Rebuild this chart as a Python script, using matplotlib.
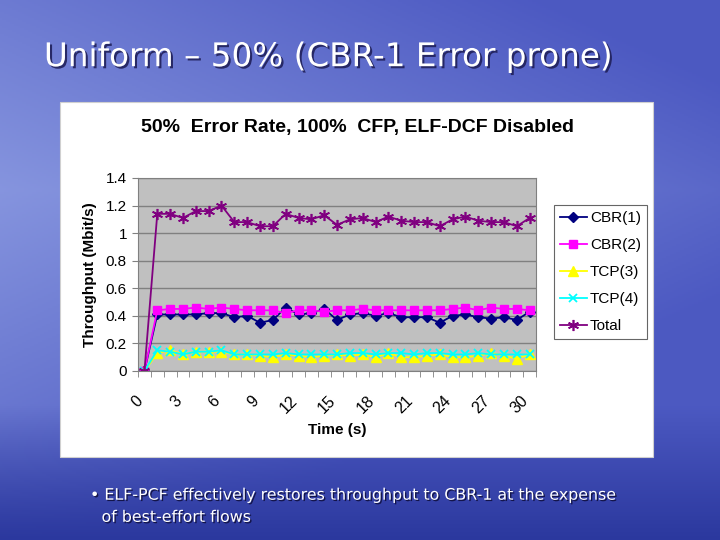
import numpy as np
import matplotlib
matplotlib.use("Agg")
import matplotlib.pyplot as plt
import matplotlib.patheffects as pe
import matplotlib.transforms as mtransforms
from matplotlib.patches import Rectangle

# data (31 samples, t = 0..30 s)
time_s = list(range(31))
cbr1 = [0, 0.41, 0.41, 0.41, 0.41, 0.42, 0.42, 0.39, 0.40, 0.35, 0.37, 0.46, 0.41, 0.42, 0.45, 0.37,
        0.41, 0.42, 0.40, 0.42, 0.39, 0.39, 0.39, 0.35, 0.40, 0.41, 0.39, 0.38, 0.39, 0.37, 0.43]
cbr2 = [0, 0.44, 0.45, 0.45, 0.46, 0.45, 0.46, 0.45, 0.44, 0.44, 0.44, 0.42, 0.44, 0.44, 0.43, 0.44,
        0.44, 0.45, 0.44, 0.44, 0.44, 0.44, 0.44, 0.44, 0.45, 0.46, 0.44, 0.46, 0.45, 0.45, 0.44]
tcp3 = [0, 0.13, 0.15, 0.12, 0.14, 0.14, 0.14, 0.12, 0.12, 0.11, 0.10, 0.12, 0.11, 0.10, 0.11, 0.12,
        0.11, 0.12, 0.10, 0.13, 0.10, 0.10, 0.11, 0.12, 0.10, 0.10, 0.11, 0.13, 0.11, 0.09, 0.12]
tcp4 = [0, 0.15, 0.14, 0.12, 0.14, 0.14, 0.15, 0.12, 0.12, 0.12, 0.12, 0.13, 0.12, 0.12, 0.12, 0.12,
        0.13, 0.13, 0.12, 0.13, 0.13, 0.12, 0.13, 0.13, 0.12, 0.12, 0.13, 0.12, 0.12, 0.12, 0.12]
total = [0, 1.14, 1.14, 1.11, 1.16, 1.16, 1.20, 1.08, 1.08, 1.05, 1.05, 1.14, 1.11, 1.10, 1.13, 1.06,
         1.10, 1.11, 1.08, 1.12, 1.09, 1.08, 1.08, 1.05, 1.10, 1.12, 1.09, 1.08, 1.08, 1.05, 1.11]

series_names = ["CBR(1)", "CBR(2)", "TCP(3)", "TCP(4)", "Total"]
y_ticks = [0, 0.2, 0.4, 0.6, 0.8, 1, 1.2, 1.4]
x_labels = list(range(0, 31, 3))

fig = plt.figure(figsize=(7.2, 5.4), dpi=100)

# slide background: blue sky/sea gradient, plus the white chart box
bg = fig.add_axes([0, 0, 1, 1], zorder=-1)
h, w = 270, 360
yy, xx = np.mgrid[0:1:h * 1j, 0:1:w * 1j]
light = np.array([0.58, 0.64, 0.90])
mid = np.array([0.30, 0.35, 0.76])
dark = np.array([0.17, 0.22, 0.62])
t = np.clip(0.6 * xx + 1.0 * np.abs(yy - 0.35) + 0.2, 0, 1)[..., None]
img = light * (1 - t) + mid * t
bottom = np.clip((yy - 0.75) / 0.25, 0, 1)[..., None]
img = img * (1 - bottom) + dark * bottom
bg.imshow(img, aspect="auto", extent=[0, 1, 0, 1], origin="upper")
bg.add_patch(Rectangle((0.0833, 0.1537), 0.8236, 0.6574, facecolor="white",
                       edgecolor="#d0d0d0", lw=0.8))
bg.set_xlim(0, 1)
bg.set_ylim(0, 1)
bg.axis("off")

shadow = [pe.withSimplePatchShadow(offset=(1.5, -1.5), shadow_rgbFace="#20205a", alpha=0.9)]
fig.text(0.061, 0.895, "Uniform \u2013 50% (CBR-1 Error prone)", color="white", fontsize=23.5,
         family="DejaVu Sans", va="center", ha="left", path_effects=shadow)
small_shadow = [pe.withSimplePatchShadow(offset=(1, -1), shadow_rgbFace="#101040", alpha=0.9)]
fig.text(0.125, 0.083, "\u2022 ELF-PCF effectively restores throughput to CBR-1 at the expense",
         color="white", fontsize=11.4, family="DejaVu Sans", va="center", ha="left",
         path_effects=small_shadow)
fig.text(0.141, 0.042, "of best-effort flows",
         color="white", fontsize=11.4, family="DejaVu Sans", va="center", ha="left",
         path_effects=small_shadow)

ax = fig.add_axes([0.1917, 0.3130, 0.5528, 0.3574])
ax.set_facecolor("#c0c0c0")
ax.set_axisbelow(True)

styles = [
    dict(color="#000080", marker="D", ms=5.5),
    dict(color="#ff00ff", marker="s", ms=6),
    dict(color="#ffff00", marker="^", ms=6.5),
    dict(color="#00ffff", marker="x", ms=6, mew=1.3),
    dict(color="#800080", marker=(6, 2, 0), ms=8, mew=1.2),
]
for name, vals, st in zip(series_names, [cbr1, cbr2, tcp3, tcp4, total], styles):
    ax.plot(time_s, vals, label=name, lw=1.3, **st)

ax.set_xlim(-0.5, 30.5)
ax.set_ylim(0, 1.4)
ax.set_yticks(y_ticks)
ax.set_yticklabels(["0", "0.2", "0.4", "0.6", "0.8", "1", "1.2", "1.4"],
                   fontsize=11, family="Liberation Sans")
ax.yaxis.grid(True, color="#808080", lw=1)
ax.tick_params(axis="y", length=4, color="#808080", pad=4)

ax.set_xticks(x_labels)
ax.set_xticks(np.arange(-0.5, 31, 1), minor=True)
ax.tick_params(axis="x", which="major", length=0, pad=16)
ax.tick_params(axis="x", which="minor", length=4, color="#808080")
ax.set_xticklabels([str(v) for v in x_labels], rotation=45, ha="right", va="top",
                   rotation_mode="anchor", fontsize=11.5, family="Liberation Sans")
# nudge the slanted labels left, like Excel does
shift = mtransforms.ScaledTranslation(-0.09, 0, fig.dpi_scale_trans)
for lbl in ax.get_xticklabels():
    lbl.set_transform(lbl.get_transform() + shift)

for side in ["top", "right", "left", "bottom"]:
    ax.spines[side].set_color("#808080")

ax.set_xlabel("Time (s)", fontsize=11, fontweight="bold", family="Liberation Sans", labelpad=5)
ax.set_ylabel("Throughput (Mbit/s)", fontsize=11, fontweight="bold", family="Liberation Sans",
              labelpad=6)
fig.text(0.497, 0.763, "50%  Error Rate, 100%  CFP, ELF-DCF Disabled", ha="center", va="center",
         fontsize=14, fontweight="bold", family="Liberation Sans")

leg = ax.legend(loc="upper left", bbox_to_anchor=(0.7694, 0.6204), bbox_transform=fig.transFigure,
                frameon=True, fancybox=False, edgecolor="#404040", borderaxespad=0,
                prop={"family": "Liberation Sans", "size": 11}, handlelength=1.75,
                labelspacing=0.85, borderpad=0.4, handletextpad=0.2)
leg.get_frame().set_linewidth(0.8)

fig.savefig("out.png", dpi=100)
